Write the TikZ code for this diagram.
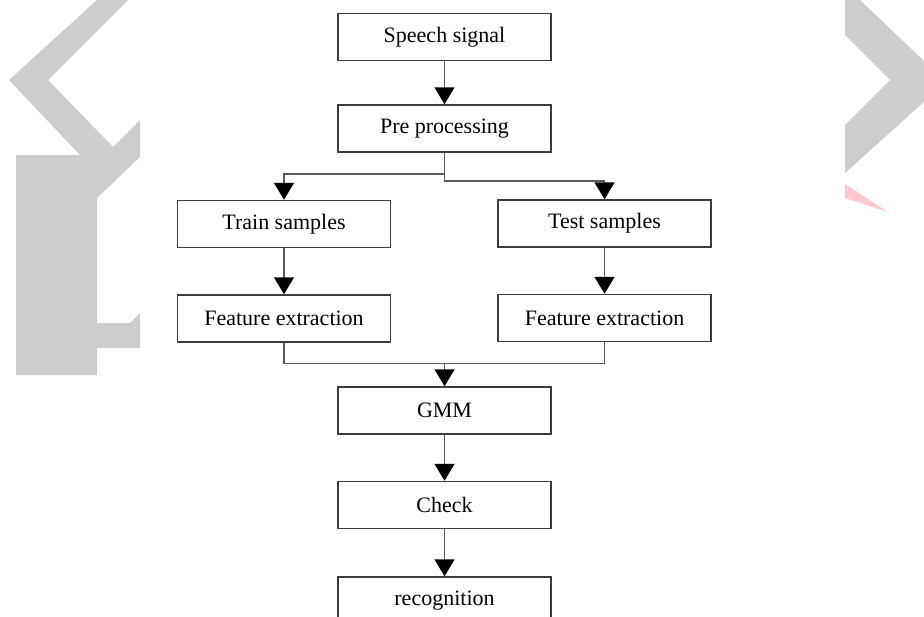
\documentclass[tikz,border=0pt]{standalone}
\usepackage{fontspec}
\setmainfont{Liberation Serif}
\usetikzlibrary{arrows.meta, positioning, calc}
\definecolor{markGray}{RGB}{205, 205, 205}
\definecolor{markPink}{RGB}{255, 200, 205}
\definecolor{boxLine}{RGB}{60, 60, 60}
\definecolor{flowLine}{RGB}{90, 90, 90}

\begin{document}
\begin{tikzpicture}[
    x=0.5pt, y=-0.5pt,
    font=\fontsize{11}{13}\selectfont,
    % Process Block
    stage/.style={
        draw=boxLine,
        fill=white,
        rectangle,
        line width=0.75pt,
        align=center,
        minimum width=106.5pt,
        minimum height=23.5pt,
        inner sep=2pt
    },
    % Plain Connection Line
    line/.style={
        draw=flowLine,
        line width=0.75pt
    },
    % Arrow Connection Style
    link/.style={
        line,
        -{Triangle[length=8.5pt, width=10pt, color=black, fill=black]}
    }
]
    \clip (0,0) rectangle (924,616);

    % Background watermark
    \fill[markGray] (97,0) -- (9,80) -- (80,155) -- (16,155) -- (16,375) -- (97,375)
        -- (97,348) -- (140,348) -- (140,313) -- (130,323) -- (97,323) -- (97,198)
        -- (140,157) -- (140,120) -- (113,147) -- (48,80) -- (128,0) -- cycle;
    \fill[markGray] (845,0) -- (860,0) -- (946,82) -- (845,173) -- (845,125)
        -- (890,80) -- (845,35) -- cycle;
    \fill[markPink] (845,184) -- (888,212) -- (845,198) -- cycle;

    % Main flow
    \node (speech) [stage] at (444.5,37) {Speech signal};
    \node (pre) [stage, below=21.5pt of speech] {Pre processing};

    % Two branches
    \node (train) [stage] at (284,224) {Train samples};
    \node (test) [stage] at (604.5,223.5) {Test samples};
    \node (trainfeat) [stage, below=23pt of train] {Feature extraction};
    \node (testfeat) [stage, below=23pt of test] {Feature extraction};

    % Model and result
    \node (gmm) [stage] at (444.5,410.5) {GMM};
    \node (check) [stage, below=23pt of gmm] {Check};
    \node (recog) [stage, below=23.5pt of check] {recognition};

    \coordinate (merge) at ($(gmm.north)+(0,-23)$);

    % Connector Arrows
    \draw [link] (speech) -- (pre);
    \draw [link] (pre.south) -- ++(0,21) -| (train.north);
    \draw [link] (pre.south) -- ++(0,28) -| (test.north);
    \draw [link] (train) -- (trainfeat);
    \draw [link] (test) -- (testfeat);
    \draw [line] (trainfeat.south) |- (merge) -| (testfeat.south);
    \draw [link] (merge) -- (gmm);
    \draw [link] (gmm) -- (check);
    \draw [link] (check) -- (recog);

\end{tikzpicture}
\end{document}
